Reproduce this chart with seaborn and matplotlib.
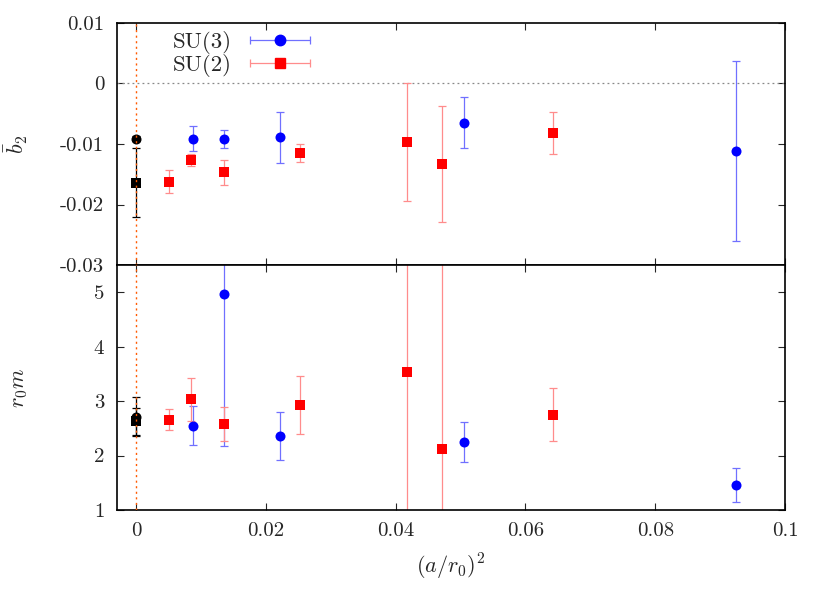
import numpy as np
import pandas as pd
import seaborn as sns
import matplotlib.pyplot as plt
from matplotlib.lines import Line2D
from matplotlib.legend_handler import HandlerLine2D, HandlerTuple

# lattice spacing (a/r0)^2
x_su3 = [0.0087, 0.0136, 0.0222, 0.0506, 0.0924]
x_su2 = [0.0050, 0.0085, 0.0136, 0.0253, 0.0418, 0.0472, 0.0642]
x_cont = [0.0, 0.0]

# b2 bar (upper panel)
b2_su3 = [-0.0091, -0.0092, -0.0089, -0.0065, -0.0112]
b2_su3_err = [0.0020, 0.0015, 0.0042, 0.0042, 0.0149]
b2_su2 = [-0.0162, -0.0127, -0.0147, -0.0115, -0.0097, -0.0133, -0.0082]
b2_su2_err = [0.0019, 0.0010, 0.0020, 0.0015, 0.0097, 0.0096, 0.0035]
b2_cont = [-0.0091, -0.0164]  # SU(3), SU(2) continuum
b2_cont_err = [0.0004, 0.0057]

# r0 m (lower panel)
m_su3 = [2.55, 4.96, 2.36, 2.25, 1.46]
m_su3_err = [0.36, 2.78, 0.44, 0.37, 0.32]
m_su2 = [2.66, 3.03, 2.58, 2.93, 3.54, 2.12, 2.75]
m_su2_err = [0.20, 0.40, 0.31, 0.54, 4.5, 4.5, 0.49]
m_cont = [2.71, 2.63]
m_cont_err = [0.36, 0.25]

xticks = [0, 0.02, 0.04, 0.06, 0.08, 0.1]
xticklabels = ["0", "0.02", "0.04", "0.06", "0.08", "0.1"]
b2_ticks = [0.01, 0, -0.01, -0.02, -0.03]
b2_ticklabels = ["0.01", "0", "-0.01", "-0.02", "-0.03"]
m_ticks = [1, 2, 3, 4, 5]
m_ticklabels = ["1", "2", "3", "4", "5"]

sns.set_style("ticks")
plt.rcParams["font.family"] = "serif"
plt.rcParams["font.serif"] = ["cmr10", "DejaVu Serif"]
plt.rcParams["mathtext.fontset"] = "cm"
plt.rcParams["axes.unicode_minus"] = False
plt.rcParams["axes.formatter.use_mathtext"] = True

BLUE = "#0000ff"
RED = "#ff0000"
BLUE_BAR = "#7070ff"
RED_BAR = "#ff8c8c"

fig = plt.figure(figsize=(8.27, 5.91), dpi=100)
ax1 = fig.add_axes([0.1411, 0.5516, 0.8081, 0.4095])
ax2 = fig.add_axes([0.1411, 0.1371, 0.8081, 0.4145])


def draw_panel(ax, ys3, es3, ys2, es2, yc, ec):
    ax.errorbar(x_su3, ys3, yerr=es3, fmt="none", ecolor=BLUE_BAR,
                elinewidth=0.9, capsize=3, capthick=0.9, zorder=2)
    ax.errorbar(x_su2, ys2, yerr=es2, fmt="none", ecolor=RED_BAR,
                elinewidth=0.9, capsize=3, capthick=0.9, zorder=2)
    ax.errorbar(x_cont, yc, yerr=ec, fmt="none", ecolor="black",
                elinewidth=0.9, capsize=3, capthick=0.9, zorder=2)
    ax.axvline(0, color="#ff5a00", ls=(0, (1.5, 2.5)), lw=1.0, zorder=4)
    sns.scatterplot(x=x_su3, y=ys3, ax=ax, color=BLUE, marker="o", s=52,
                    linewidth=0, zorder=3, legend=False)
    sns.scatterplot(x=x_su2, y=ys2, ax=ax, color=RED, marker="s", s=44,
                    linewidth=0, zorder=3, legend=False)
    sns.scatterplot(x=x_cont[:1], y=yc[:1], ax=ax, color="black", marker="o",
                    s=52, linewidth=0, zorder=3, legend=False)
    sns.scatterplot(x=x_cont[1:], y=yc[1:], ax=ax, color="black", marker="s",
                    s=44, linewidth=0, zorder=3, legend=False)
    ax.set_xlim(-0.003, 0.1)
    ax.set_xticks(xticks)
    ax.tick_params(direction="in", top=True, right=True, length=5,
                   width=0.8, labelsize=15, pad=9)
    for sp in ax.spines.values():
        sp.set_linewidth(1.2)
        sp.set_color("black")


draw_panel(ax1, b2_su3, b2_su3_err, b2_su2, b2_su2_err, b2_cont, b2_cont_err)
draw_panel(ax2, m_su3, m_su3_err, m_su2, m_su2_err, m_cont, m_cont_err)

ax1.axhline(0, color="#888888", ls=(0, (1.5, 2.5)), lw=0.9, zorder=1)
ax1.set_ylim(-0.03, 0.01)
ax1.set_yticks(b2_ticks, labels=b2_ticklabels)
ax1.set_xticklabels([])
ax1.set_ylabel(r"$\bar{b}_2$", fontsize=16)
ax1.yaxis.set_label_coords(-0.13, 0.5)

ax2.set_ylim(1, 5.5)
ax2.set_yticks(m_ticks, labels=m_ticklabels)
ax2.set_xticks(xticks, labels=xticklabels)
ax2.set_ylabel(r"$r_0m$", fontsize=16)
ax2.yaxis.set_label_coords(-0.13, 0.5)
ax2.set_xlabel(r"$(a/r_0)^2$", fontsize=16)
ax2.xaxis.set_label_coords(0.5, -0.17)

# gnuplot-like legend: label, then horizontal error bar with marker on top
bar3 = Line2D([], [], color=BLUE_BAR, lw=0.9, marker="|", ms=6, mew=0.9)
bar2 = Line2D([], [], color=RED_BAR, lw=0.9, marker="|", ms=6, mew=0.9)
mk3 = Line2D([], [], ls="none", color=BLUE, marker="o", ms=7.5)
mk2 = Line2D([], [], ls="none", color=RED, marker="s", ms=6.8)
ax1.legend([(bar3, mk3), (bar2, mk2)], ["SU(3)", "SU(2)"],
           handler_map={tuple: HandlerTuple(ndivide=1),
                        mk3: HandlerLine2D(numpoints=1),
                        mk2: HandlerLine2D(numpoints=1)},
           numpoints=2, markerfirst=False, frameon=False, fontsize=16.5,
           handlelength=3.25, handletextpad=0.5, labelspacing=0.0,
           borderpad=0, loc="upper left", bbox_to_anchor=(0.066, 1.015))

fig.savefig("out.png", dpi=100)
